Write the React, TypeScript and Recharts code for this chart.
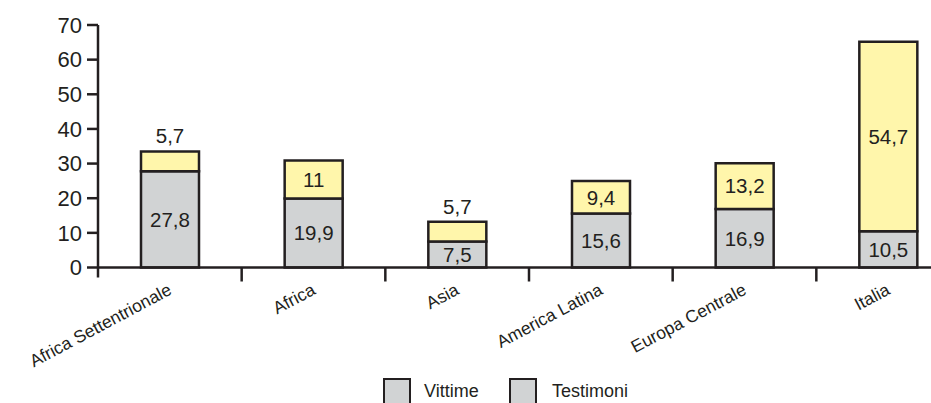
import React from 'react';
import { BarChart, Bar, XAxis, YAxis, LabelList } from 'recharts';

const categories = ['Africa Settentrionale', 'Africa', 'Asia', 'America Latina', 'Europa Centrale', 'Italia'];
const vittime = [27.8, 19.9, 7.5, 15.6, 16.9, 10.5];
const testimoni = [5.7, 11, 5.7, 9.4, 13.2, 54.7];
const yTicks = [0, 10, 20, 30, 40, 50, 60, 70];
const seriesNames = ['Vittime', 'Testimoni'];

const INK = '#231f20';
const GRAY = '#d1d3d4';
const YELLOW = '#fff6ab';
const FONT = '"Liberation Sans", Arial, Helvetica, sans-serif';

// the plot runs a little past the visible frame on the right
const CHART_W = 960;
const CHART_H = 403;
const Y_AXIS_W = 98;
const TOP = 25;
const AXIS_Y = 267.5;
const BAND = (CHART_W - Y_AXIS_W) / categories.length;

const data = categories.map((name, i) => ({
  name,
  vittime: vittime[i],
  testimoni: testimoni[i],
}));

const fmt = (v: number) => String(v).replace('.', ',');

function CategoryTick(props: any) {
  const { x, y, payload, index } = props;
  const left = x - BAND / 2;
  return (
    <g>
      <line x1={left} x2={left} y1={y} y2={y + (index === 0 ? 10 : 14)} stroke={INK} strokeWidth={2.5} />
      <text
        transform={`translate(${x + 3},${y + 26}) rotate(-28)`}
        textAnchor="end"
        fontSize={17.5}
        fontFamily={FONT}
        fill={INK}
      >
        {payload.value}
      </text>
    </g>
  );
}

// value inside the segment, or just above it when the segment is too thin
function SegmentLabel(props: any) {
  const box = props.viewBox ?? props;
  const { x, y, width, height } = box;
  const value = props.value as number;
  const cx = x + width / 2;
  const small = Math.abs(height) < 25;
  return (
    <text
      x={cx}
      y={small ? y - 8 : y + height / 2}
      dy={small ? 0 : '0.36em'}
      textAnchor="middle"
      fontSize={20.5}
      fontFamily={FONT}
      fill={INK}
    >
      {fmt(value)}
    </text>
  );
}

export default function App() {
  return (
    <div
      style={{
        position: 'absolute',
        left: 0,
        top: 0,
        width: 931,
        height: 403,
        overflow: 'hidden',
        background: '#fff',
        fontFamily: FONT,
      }}
    >
      <BarChart
        width={CHART_W}
        height={CHART_H}
        data={data}
        margin={{ top: TOP, right: 0, left: 0, bottom: 0 }}
        barSize={58}
      >
        <XAxis
          dataKey="name"
          height={CHART_H - AXIS_Y}
          axisLine={{ stroke: INK, strokeWidth: 2.5 }}
          tickLine={false}
          tickSize={0}
          tickMargin={0}
          interval={0}
          tick={<CategoryTick />}
        />
        <YAxis
          width={Y_AXIS_W}
          domain={[0, 70]}
          ticks={yTicks}
          interval={0}
          axisLine={{ stroke: INK, strokeWidth: 2.5 }}
          tickLine={{ stroke: INK, strokeWidth: 2.5 }}
          tickSize={11}
          tickMargin={5}
          tick={{ fill: INK, fontSize: 22, fontFamily: FONT }}
        />
        <Bar dataKey="vittime" stackId="s" fill={GRAY} stroke={INK} strokeWidth={2.5} isAnimationActive={false}>
          <LabelList dataKey="vittime" content={<SegmentLabel />} />
        </Bar>
        <Bar dataKey="testimoni" stackId="s" fill={YELLOW} stroke={INK} strokeWidth={2.5} isAnimationActive={false}>
          <LabelList dataKey="testimoni" content={<SegmentLabel />} />
        </Bar>
      </BarChart>

      {seriesNames.map((name, i) => (
        <div key={name}>
          <div
            style={{
              position: 'absolute',
              left: i === 0 ? 383 : 509,
              top: 378,
              width: 28,
              height: 30,
              boxSizing: 'border-box',
              border: `2.5px solid ${INK}`,
              background: GRAY,
            }}
          />
          <div
            style={{
              position: 'absolute',
              left: i === 0 ? 424 : 552,
              top: 380,
              fontSize: 18,
              lineHeight: '22px',
              color: INK,
            }}
          >
            {name}
          </div>
        </div>
      ))}
    </div>
  );
}
